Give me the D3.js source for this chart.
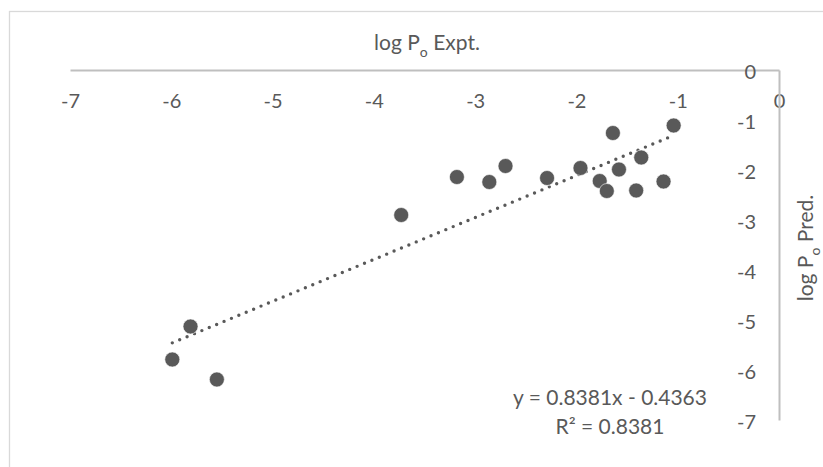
<!DOCTYPE html>
<html><head><meta charset="utf-8">
<script src="https://cdn.jsdelivr.net/npm/d3@7"></script>
<style>body{margin:0;background:#fff;} text{font-family:Lato,"Open Sans",sans-serif;fill:#595959;}</style>
</head><body>
<svg id="c" width="823" height="467"></svg>
<script>
const logPoExpt = [-5.99,-5.81,-5.55,-3.73,-3.18,-2.86,-2.70,-2.29,-1.96,-1.77,-1.70,-1.64,-1.58,-1.41,-1.36,-1.14,-1.04];
const logPoPred = [-5.79,-5.13,-6.19,-2.90,-2.14,-2.24,-1.92,-2.16,-1.96,-2.22,-2.42,-1.26,-1.99,-2.41,-1.75,-2.23,-1.11];
const xTicks = [-7,-6,-5,-4,-3,-2,-1,0];
const yTicks = [0,-1,-2,-3,-4,-5,-6,-7];
const trendSlope = 0.8381, trendIntercept = -0.4363, trendR2 = 0.8381;

const svg = d3.select("#c");
const x = d3.scaleLinear().domain([-7,0]).range([70,779]);
const y = d3.scaleLinear().domain([0,-7]).range([70,420]);
const grey = "#595959", axisCol = "#bfbfbf";
const fs = "20px";
const fmt = d => String(d);

// chart border
svg.append("rect").attr("x",9.5).attr("y",11.5).attr("width",830).attr("height",480)
  .attr("fill","none").attr("stroke","#d9d9d9").attr("stroke-width",1.3);

// x axis at y=0
const xa = svg.append("g").attr("transform",`translate(0,${y(0)})`)
  .call(d3.axisBottom(x).tickValues(xTicks).tickSize(0).tickPadding(0).tickFormat(fmt));
xa.select(".domain").attr("stroke",axisCol).attr("stroke-width",2);
xa.selectAll("text").attr("dy",null).attr("y",30).attr("dominant-baseline","central")
  .style("font-size",fs).style("fill",grey).style("font-family","Lato");

// y axis at x=0
const ya = svg.append("g").attr("transform",`translate(${x(0)},0)`)
  .call(d3.axisLeft(y).tickValues(yTicks).tickSize(0).tickPadding(0).tickFormat(fmt));
ya.select(".domain").attr("stroke",axisCol).attr("stroke-width",2);
ya.selectAll("text").attr("dy",null).attr("x",-23).attr("dominant-baseline","central")
  .style("font-size",fs).style("fill",grey).style("font-family","Lato");

// axis titles
const tx = svg.append("text").attr("x",427).attr("y",50).attr("text-anchor","middle").style("font-size","21px");
tx.append("tspan").text("log P");
tx.append("tspan").attr("dy",7).style("font-size","14px").text("o");
tx.append("tspan").attr("dy",-7).text(" Expt.");

const ty = svg.append("text").attr("transform","translate(813,248) rotate(-90)").attr("text-anchor","middle").style("font-size","21px");
ty.append("tspan").text("log P");
ty.append("tspan").attr("dy",7).style("font-size","14px").text("o");
ty.append("tspan").attr("dy",-7).text(" Pred.");

// trendline
const xmin = d3.min(logPoExpt), xmax = d3.max(logPoExpt);
svg.append("line")
  .attr("x1",x(xmin)).attr("y1",y(trendSlope*xmin+trendIntercept))
  .attr("x2",x(xmax)).attr("y2",y(trendSlope*xmax+trendIntercept))
  .attr("stroke",grey).attr("stroke-width",3.4).attr("stroke-linecap","round").attr("stroke-dasharray","0,8");

// points
svg.append("g").selectAll("circle").data(logPoExpt).join("circle")
  .attr("cx",d=>x(d)).attr("cy",(d,i)=>y(logPoPred[i])).attr("r",7.5)
  .attr("fill",grey).attr("stroke","#fff").attr("stroke-width",0.6);

// equation
svg.append("text").attr("x",610).attr("y",405).attr("text-anchor","middle").style("font-size","21px")
  .text(`y = ${trendSlope}x - ${Math.abs(trendIntercept)}`);
svg.append("text").attr("x",610).attr("y",434).attr("text-anchor","middle").style("font-size","21px")
  .text(`R² = ${trendR2}`);
</script>
</body></html>
